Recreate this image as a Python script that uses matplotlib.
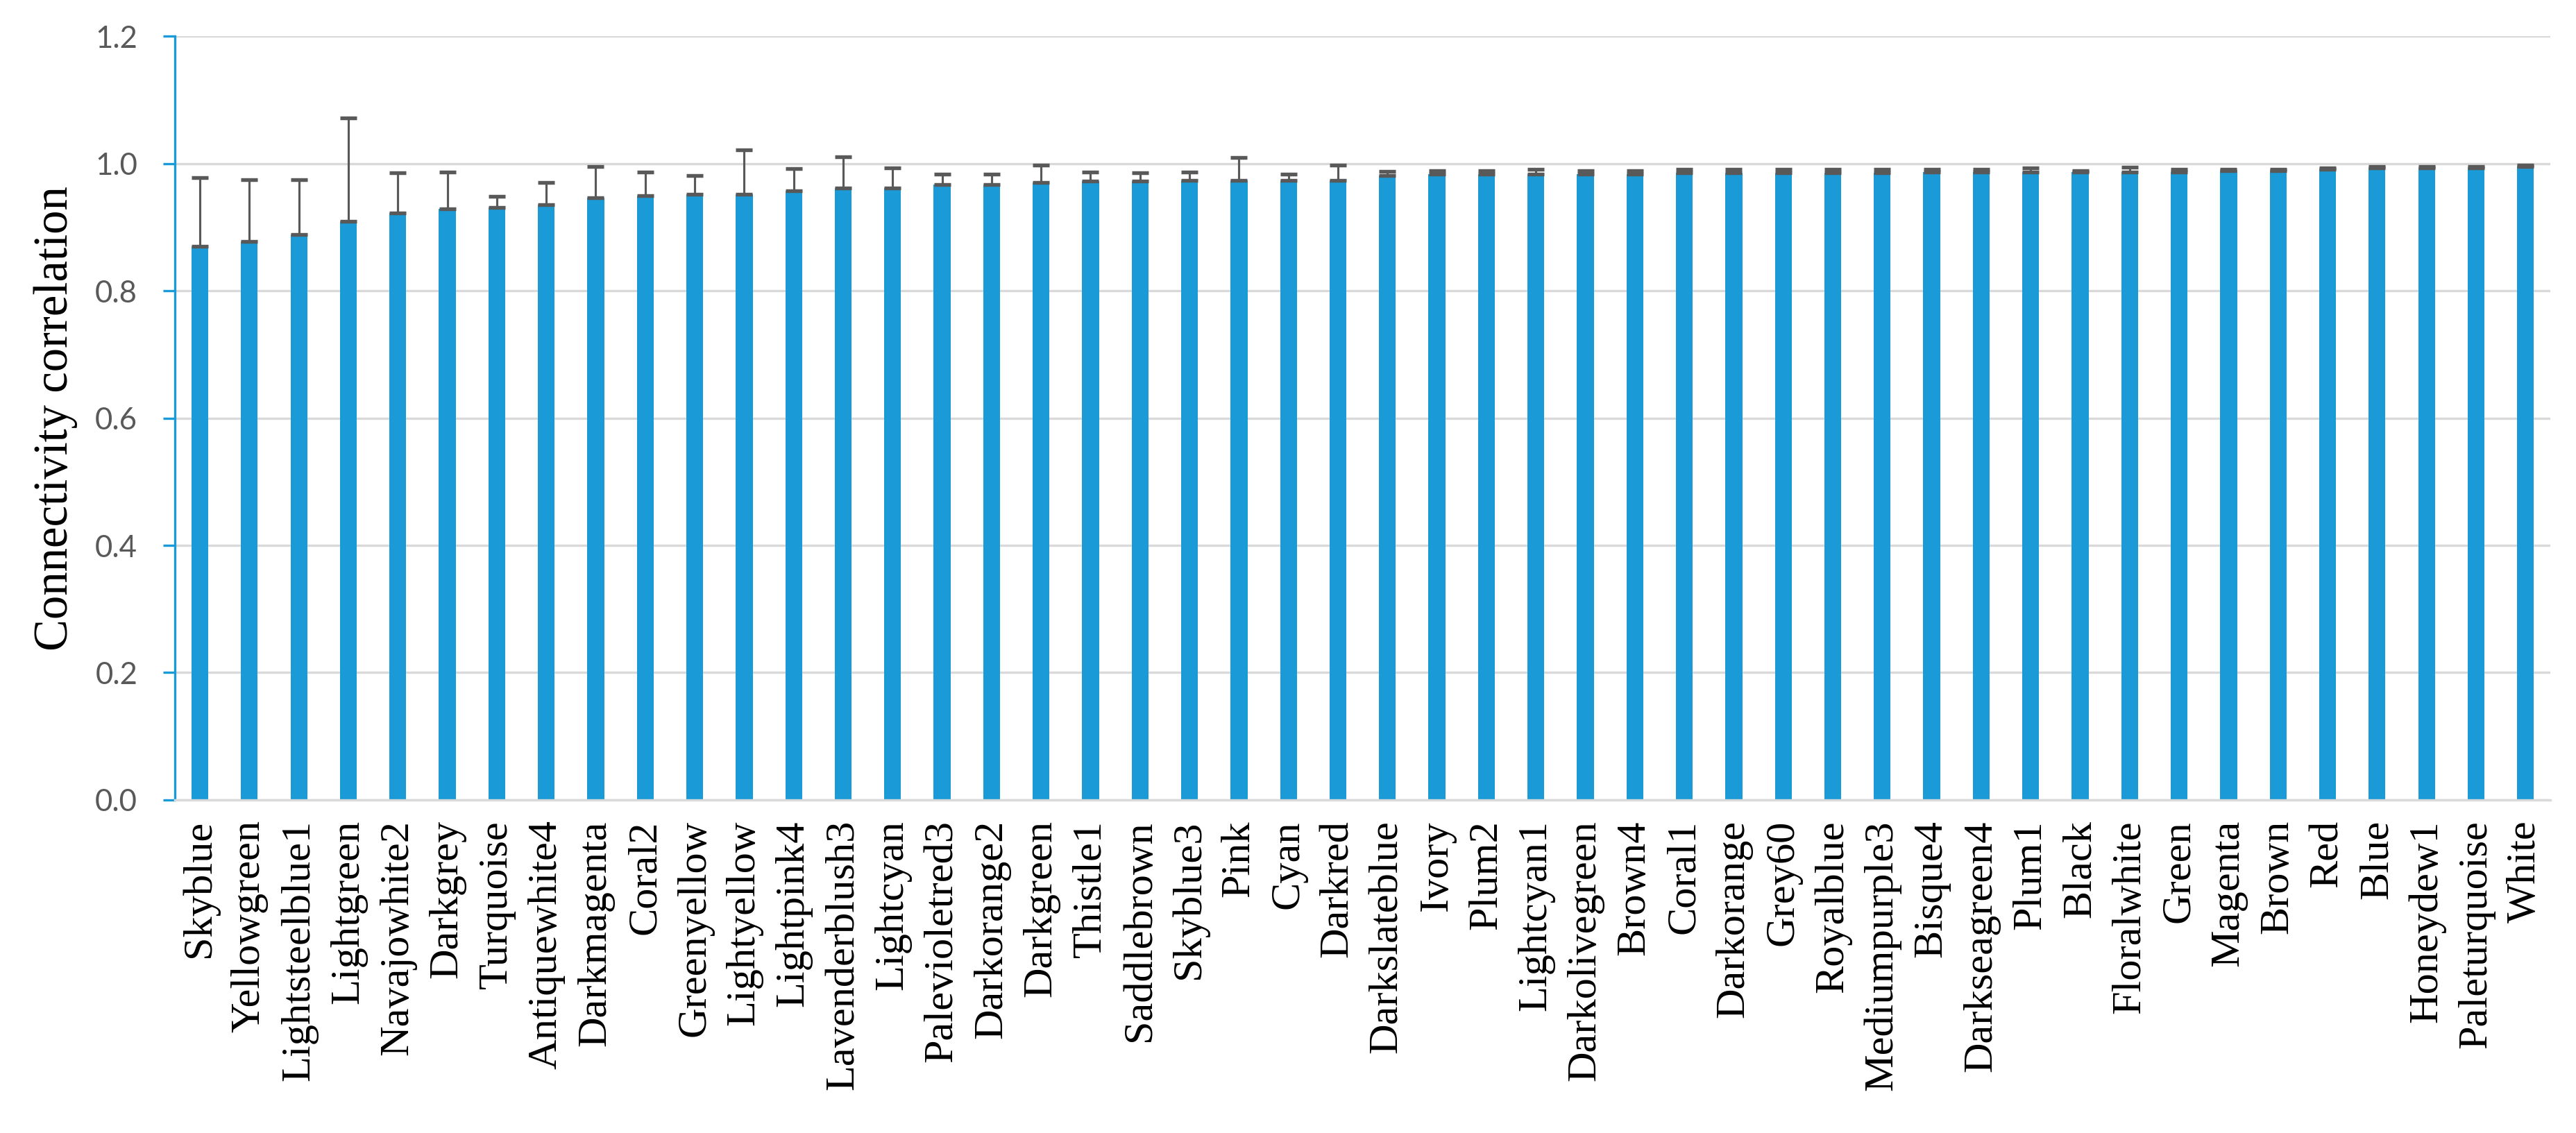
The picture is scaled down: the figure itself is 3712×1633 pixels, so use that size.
import matplotlib
matplotlib.use("Agg")
import matplotlib.pyplot as plt
from matplotlib.ticker import FormatStrFormatter
import numpy as np

colours = ['Skyblue', 'Yellowgreen', 'Lightsteelblue1', 'Lightgreen', 'Navajowhite2',
           'Darkgrey', 'Turquoise', 'Antiquewhite4', 'Darkmagenta', 'Coral2',
           'Greenyellow', 'Lightyellow', 'Lightpink4', 'Lavenderblush3', 'Lightcyan',
           'Palevioletred3', 'Darkorange2', 'Darkgreen', 'Thistle1', 'Saddlebrown',
           'Skyblue3', 'Pink', 'Cyan', 'Darkred', 'Darkslateblue', 'Ivory', 'Plum2',
           'Lightcyan1', 'Darkolivegreen', 'Brown4', 'Coral1', 'Darkorange', 'Grey60',
           'Royalblue', 'Mediumpurple3', 'Bisque4', 'Darkseagreen4', 'Plum1', 'Black',
           'Floralwhite', 'Green', 'Magenta', 'Brown', 'Red', 'Blue', 'Honeydew1',
           'Paleturquoise', 'White']

# mean connectivity correlation per colour
corr = [0.870, 0.878, 0.889, 0.909, 0.922,
        0.929, 0.931, 0.935, 0.946, 0.950,
        0.952, 0.952, 0.957, 0.961, 0.961,
        0.967, 0.967, 0.970, 0.972, 0.972,
        0.974, 0.974, 0.974, 0.974, 0.981, 0.983, 0.983,
        0.983, 0.983, 0.983, 0.985, 0.985, 0.985,
        0.985, 0.985, 0.987, 0.987, 0.987, 0.987,
        0.987, 0.987, 0.989, 0.989, 0.991, 0.993, 0.993,
        0.993, 0.995]

# upper end of the error bar
upper = [0.978, 0.975, 0.975, 1.072, 0.985,
         0.987, 0.948, 0.970, 0.995, 0.987,
         0.981, 1.022, 0.992, 1.011, 0.993,
         0.983, 0.983, 0.998, 0.987, 0.985,
         0.987, 1.009, 0.983, 0.998, 0.988, 0.989, 0.989,
         0.991, 0.989, 0.989, 0.991, 0.991, 0.991,
         0.991, 0.991, 0.991, 0.991, 0.993, 0.989,
         0.994, 0.991, 0.991, 0.991, 0.993, 0.995, 0.995,
         0.995, 0.998]

bar_col = '#1a9bd7'
err_col = '#595959'
grid_col = '#d9d9d9'

corr = np.array(corr)
err = np.array(upper) - corr
x = np.arange(len(colours))

fig = plt.figure(figsize=(3712 / 300, 1633 / 300), dpi=300)
ax = fig.add_axes([0.068, 0.294, 0.922, 0.674])

ax.bar(x, corr, width=0.34, color=bar_col, zorder=2)
ax.errorbar(x, corr, yerr=[np.zeros_like(err), err], fmt='none', ecolor=err_col,
            elinewidth=0.75, capsize=2.9, capthick=1.3, zorder=3)

ax.set_xlim(-0.5, len(colours) - 0.5)
ax.set_ylim(0, 1.2)
ax.set_yticks(np.arange(0, 1.21, 0.2))
ax.yaxis.set_major_formatter(FormatStrFormatter('%.1f'))
ax.yaxis.grid(True, color=grid_col, linewidth=0.8, zorder=0)
ax.set_axisbelow(True)

for s in ['top', 'right']:
    ax.spines[s].set_visible(False)
ax.spines['left'].set_color(bar_col)
ax.spines['left'].set_linewidth(0.8)
ax.spines['bottom'].set_color(grid_col)
ax.spines['bottom'].set_linewidth(0.8)

ax.tick_params(axis='y', colors=bar_col, length=4, width=0.8, pad=9,
               labelcolor=err_col, labelsize=10.5)
for t in ax.get_yticklabels():
    t.set_fontfamily('Lato')

ax.set_xticks(x)
ax.set_xticklabels(colours, rotation=90, family='Liberation Serif', fontsize=14.5)
ax.tick_params(axis='x', length=0, pad=7)

ax.set_ylabel('Connectivity correlation', family='Liberation Serif', fontsize=16.5,
              labelpad=6)

fig.savefig('out.png', dpi=300)
